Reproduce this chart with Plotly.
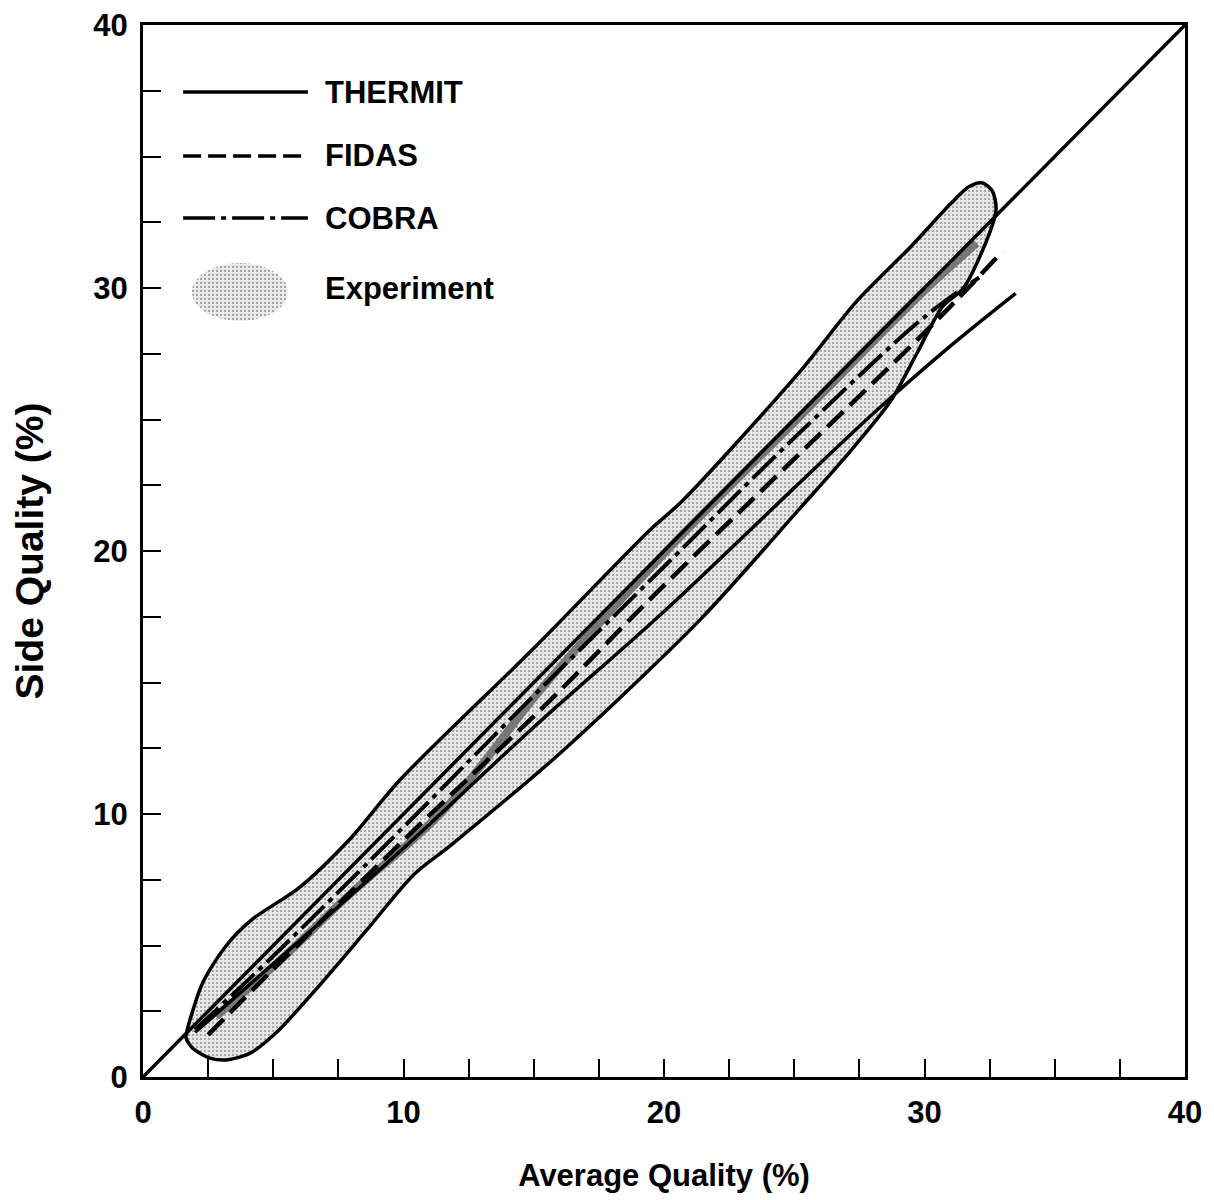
import numpy as np
import plotly.graph_objects as go

# ---------------- data ----------------
band_x = [1.65, 1.7, 2.3, 3.2, 4.2, 6.0, 7.9, 9.87, 15.0, 19.46, 20.7, 25.2, 27.4, 29.5, 31.0,
          31.7, 32.2, 32.6, 32.75, 32.5, 31.5, 30.7, 29.7, 28.7, 26.9, 25.2, 21.4, 16.0,
          11.8, 10.4, 8.6, 6.7, 5.1, 4.1, 3.2, 2.57, 1.9, 1.65]
band_y = [1.5, 1.8, 3.6, 5.0, 6.0, 7.2, 9.0, 11.3, 16.3, 20.8, 21.9, 26.8, 29.5, 31.6, 33.2,
          33.85, 34.0, 33.7, 33.0, 32.1, 30.0, 29.3, 27.5, 25.7, 23.5, 21.6, 17.4, 12.3,
          8.8, 7.7, 5.6, 3.4, 1.67, 0.9, 0.65, 0.72, 1.1, 1.5]

core_x = [2.8, 5.0, 8.0, 11.5, 15.5, 20.0, 25.0, 30.0, 32.0]
core_y = [2.3, 4.2, 7.0, 10.1, 15.0, 19.9, 24.9, 29.9, 31.7]

diag_x = [0, 40]
diag_y = [0, 40]

thermit_x = [2.0, 5.0, 10.0, 15.0, 20.0, 25.0, 28.0, 31.0, 33.5]
thermit_y = [1.7, 4.3, 8.7, 13.3, 17.7, 22.4, 25.2, 27.8, 29.8]

fidas_x = [2.5, 5.0, 10.0, 15.5, 19.7, 25.0, 30.6, 33.0]
fidas_y = [1.6, 4.1, 9.0, 14.2, 18.4, 23.5, 28.9, 31.4]

cobra_x = [2.0, 5.0, 10.0, 15.0, 20.0, 25.0, 30.0, 32.1]
cobra_y = [1.8, 4.6, 9.5, 14.5, 19.4, 24.3, 28.9, 30.4]

tick_vals = [i * 2.5 for i in range(17)]
tick_text = ["0" if v == 0 else (str(int(v)) if v % 10 == 0 else "") for v in tick_vals]

legend_names = ["THERMIT", "FIDAS", "COBRA", "Experiment"]
legend_dash = ["solid", "18px,7px", "32px,6px,5px,6px"]

FONT = "Liberation Sans, Arial, Helvetica, sans-serif"

fig = go.Figure()

# experiment band
fig.add_trace(go.Scatter(
    x=band_x, y=band_y, mode="lines", fill="toself",
    fillcolor="#e0e0e0",
    fillpattern=dict(shape=".", fgcolor="#4a4a4a", bgcolor="#e6e6e6", size=4, solidity=0.22),
    line=dict(color="black", width=3.5, shape="spline", smoothing=0.8),
    showlegend=False, hoverinfo="skip"))

# dense core of experiment band
fig.add_trace(go.Scatter(
    x=core_x, y=core_y, mode="lines", line=dict(color="#666666", width=8, shape="spline"),
    opacity=0.85, showlegend=False, hoverinfo="skip"))

# diagonal
fig.add_trace(go.Scatter(x=diag_x, y=diag_y, mode="lines",
                         line=dict(color="black", width=3.5), showlegend=False))

fig.add_trace(go.Scatter(x=thermit_x, y=thermit_y, mode="lines", name="THERMIT",
                         line=dict(color="black", width=3.5, shape="spline"), showlegend=False))
fig.add_trace(go.Scatter(x=fidas_x, y=fidas_y, mode="lines", name="FIDAS",
                         line=dict(color="black", width=4.5, dash="22px,9px", shape="spline"),
                         showlegend=False))
fig.add_trace(go.Scatter(x=cobra_x, y=cobra_y, mode="lines", name="COBRA",
                         line=dict(color="black", width=4, dash=legend_dash[2], shape="spline"),
                         showlegend=False))

# ---------------- hand-drawn style legend ----------------
leg_x0, leg_x1 = 1.54, 6.33
leg_rows = [37.45, 35.02, 32.66]
for name, dash, yy in zip(legend_names[:3], legend_dash, leg_rows):
    fig.add_trace(go.Scatter(x=[leg_x0, leg_x1], y=[yy, yy], mode="lines",
                             line=dict(color="black", width=3.5, dash=dash),
                             showlegend=False, hoverinfo="skip"))
    fig.add_annotation(x=6.9, y=yy, xref="x", yref="y", text=f"<b>{name}</b>",
                       showarrow=False, xanchor="left", yanchor="middle",
                       font=dict(family=FONT, size=31, color="black"))

# experiment key blob
t = np.linspace(0, 2 * np.pi, 60)
fig.add_trace(go.Scatter(x=3.72 + 1.85 * np.cos(t), y=29.85 + 1.1 * np.sin(t), mode="lines",
                         fill="toself", fillcolor="#e4e4e4",
                         fillpattern=dict(shape=".", fgcolor="#555555", bgcolor="#ececec",
                                          size=4, solidity=0.25),
                         line=dict(color="rgba(0,0,0,0)", width=0),
                         showlegend=False, hoverinfo="skip"))
fig.add_annotation(x=6.9, y=30.0, xref="x", yref="y", text="<b>Experiment</b>",
                   showarrow=False, xanchor="left", yanchor="middle",
                   font=dict(family=FONT, size=31, color="black"))

axis_common = dict(
    range=[0, 40], tickvals=tick_vals, ticktext=tick_text,
    ticks="inside", ticklen=18, tickwidth=2, tickcolor="black",
    showline=True, linewidth=3, linecolor="black", mirror=True,
    showgrid=False, zeroline=False, automargin=False,
    ticklabeloverflow="allow",
    tickfont=dict(family=FONT, size=31, color="black", weight="bold"),
)

fig.update_layout(
    width=1214, height=1200,
    margin=dict(l=135, r=37, t=17, b=131, autoexpand=False),
    paper_bgcolor="white", plot_bgcolor="white",
    xaxis=dict(**axis_common, ticklabelstandoff=6,
               title=dict(text="<b>Average Quality (%)</b>", standoff=36,
                          font=dict(family=FONT, size=31, color="black"))),
    yaxis=dict(**axis_common, ticklabelstandoff=6,
               title=dict(text="<b>Side Quality (%)</b>", standoff=38,
                          font=dict(family=FONT, size=39, color="black"))),
    showlegend=False,
)

fig.write_html("out.html")
